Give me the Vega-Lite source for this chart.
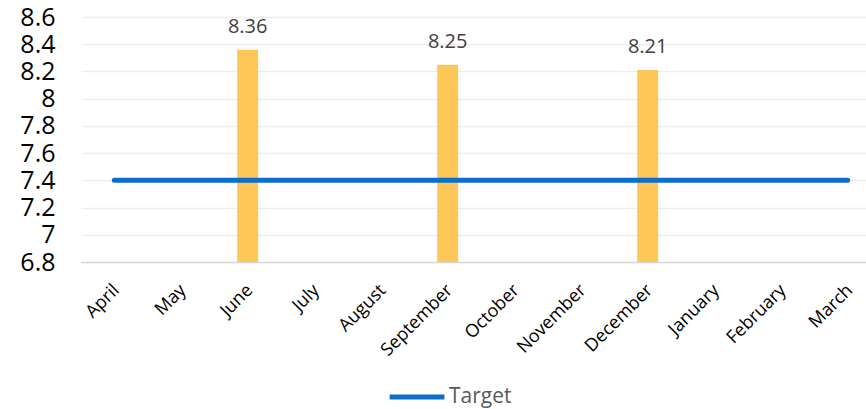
{
  "$schema": "https://vega.github.io/schema/vega-lite/v6.json",
  "autosize": {"type": "none"},
  "width": 785,
  "height": 245,
  "padding": {"left": 81, "top": 17, "right": 0, "bottom": 147},
  "background": "white",
  "config": {
    "font": "Open Sans",
    "view": {"stroke": null},
    "axisY": {
      "title": null,
      "format": "~g",
      "labelFontSize": 25,
      "labelColor": "#000000",
      "labelPadding": 26,
      "labelOverlap": false,
      "labelBound": false,
      "labelFlush": false,
      "ticks": false,
      "domain": false,
      "gridColor": "#eeeeee",
      "gridWidth": 1.5
    }
  },
  "data": {
    "values": [
      {"month": "April", "value": null, "target": 7.4, "series": "Target"},
      {"month": "May", "value": null, "target": 7.4, "series": "Target"},
      {"month": "June", "value": 8.36, "target": 7.4, "series": "Target"},
      {"month": "July", "value": null, "target": 7.4, "series": "Target"},
      {"month": "August", "value": null, "target": 7.4, "series": "Target"},
      {"month": "September", "value": 8.25, "target": 7.4, "series": "Target"},
      {"month": "October", "value": null, "target": 7.4, "series": "Target"},
      {"month": "November", "value": null, "target": 7.4, "series": "Target"},
      {"month": "December", "value": 8.21, "target": 7.4, "series": "Target"},
      {"month": "January", "value": null, "target": 7.4, "series": "Target"},
      {"month": "February", "value": null, "target": 7.4, "series": "Target"},
      {"month": "March", "value": null, "target": 7.4, "series": "Target"}
    ]
  },
  "encoding": {
    "x": {
      "field": "month",
      "type": "nominal",
      "sort": ["April", "May", "June", "July", "August", "September", "October", "November", "December", "January", "February", "March"],
      "scale": {
        "domain": ["April", "May", "June", "July", "August", "September", "October", "November", "December", "January", "February", "March"],
        "range": [0, 800],
        "paddingInner": 0,
        "paddingOuter": 0
      },
      "axis": {
        "title": null,
        "labelAngle": -45,
        "labelFontSize": 18,
        "labelColor": "#000000",
        "labelPadding": 19,
        "labelOffset": -4,
        "labelOverlap": false,
        "ticks": false,
        "domainColor": "#d9d9d9",
        "domainWidth": 1.5,
        "grid": false
      }
    }
  },
  "layer": [
    {
      "transform": [{"filter": "datum.value != null"}],
      "mark": {"type": "bar", "width": 21, "color": "#FFC658"},
      "encoding": {
        "y": {
          "field": "value",
          "type": "quantitative",
          "scale": {"domain": [6.8, 8.6], "zero": false, "nice": false},
          "axis": {"values": [6.8, 7, 7.2, 7.4, 7.6, 7.8, 8, 8.2, 8.4, 8.6]}
        },
        "y2": {"datum": 6.8}
      }
    },
    {
      "transform": [{"filter": "datum.value != null"}],
      "mark": {"type": "text", "baseline": "alphabetic", "dy": -17, "fontSize": 20, "color": "#404040"},
      "encoding": {
        "y": {
          "field": "value",
          "type": "quantitative",
          "axis": {"values": [6.8, 7, 7.2, 7.4, 7.6, 7.8, 8, 8.2, 8.4, 8.6]}
        },
        "text": {"field": "value", "type": "quantitative", "format": ".2f"}
      }
    },
    {
      "mark": {"type": "line", "strokeWidth": 5, "strokeCap": "round"},
      "encoding": {
        "y": {
          "field": "target",
          "type": "quantitative",
          "axis": {"values": [6.8, 7, 7.2, 7.4, 7.6, 7.8, 8, 8.2, 8.4, 8.6]}
        },
        "color": {
          "field": "series",
          "type": "nominal",
          "scale": {"range": ["#0A6FCC"]},
          "legend": {
            "title": null,
            "orient": "none",
            "legendX": 306,
            "legendY": 350,
            "symbolType": "stroke",
            "symbolSize": 3000,
            "symbolStrokeWidth": 5,
            "symbolStrokeColor": "#0A6FCC",
            "labelFontSize": 21,
            "labelColor": "#595959",
            "labelOffset": 2
          }
        }
      }
    }
  ]
}
